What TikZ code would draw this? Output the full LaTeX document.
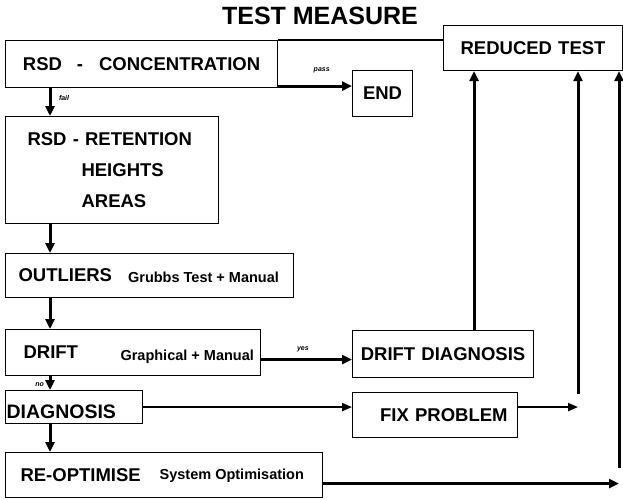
\documentclass[tikz,border=0pt]{standalone}
\usepackage{fontspec}
\setmainfont{Liberation Sans}
\usetikzlibrary{positioning, arrows.meta}

\begin{document}
\begin{tikzpicture}[x=1pt, y=-1pt,
  box/.style={draw, line width=1.1pt, anchor=north west, inner ysep=0pt,
              font=\fontsize{18.5}{22}\selectfont\bfseries},
  note/.style={inner sep=0pt, font=\fontsize{14.5}{16}\selectfont\bfseries},
  lbl/.style={inner sep=0.5pt, font=\fontsize{7}{8}\selectfont\bfseries\itshape},
  arr/.style={line width=3pt, -{Triangle[length=10pt, width=9pt]}},
  arrmid/.style={line width=2pt, -{Triangle[length=10pt, width=8pt]}}]

\useasboundingbox (0,0) rectangle (623,499);

\node[font=\fontsize{25}{28}\selectfont\bfseries] (title) at (320,16) {TEST MEASURE};

% left column
\node[box, text width=272pt, inner xsep=0pt, align=center, minimum height=47pt] (conc) at (5,40)
  {RSD\hspace{15pt}-\hspace{16pt}CONCENTRATION};
\node[box, text width=169pt, inner xsep=22pt, align=left, minimum height=107pt,
      font=\fontsize{18.5}{31}\selectfont\bfseries] (ret) at (5,116)
  {RSD - RETENTION\\ \hspace*{54pt}HEIGHTS\\ \hspace*{54pt}AREAS};
\node[box, text width=262pt, inner xsep=13pt, align=left, minimum height=44pt] (out) at (5,253) {OUTLIERS};
\node[note, left=15pt of out.east, yshift=-1.5pt] (outnote) {Grubbs Test + Manual};
\node[box, text width=219pt, inner xsep=18pt, align=left, minimum height=46pt] (drift) at (5,329) {DRIFT};
\node[note, left=7pt of drift.east, yshift=-4pt] (driftnote) {Graphical + Manual};
\node[box, text width=135pt, inner xsep=1pt, align=left, minimum height=33pt,
      text height=22pt, text depth=0pt, font=\fontsize{19.5}{22}\selectfont\bfseries] (diag) at (5,390) {DIAGNOSIS};
\node[box, text width=287pt, inner xsep=15pt, align=left, minimum height=45pt] (reopt) at (5,452) {RE-OPTIMISE};
\node[note, left=19pt of reopt.east, yshift=-1pt] (reoptnote) {System Optimisation};

% right side
\node[box, text width=60pt, inner xsep=0pt, align=center, minimum height=46pt] (finish) at (352,70) {END};
\node[box, text width=179pt, inner xsep=0pt, align=center, minimum height=45pt] (red) at (443,25) {REDUCED TEST};
\node[box, text width=181pt, inner xsep=0pt, align=center, minimum height=47pt] (ddiag) at (352,330) {DRIFT DIAGNOSIS};
\node[box, text width=145pt, inner xsep=10pt, align=right, minimum height=45pt] (fix) at (352,392) {FIX PROBLEM};

% down the left column
\draw[arr] ([xshift=45pt]conc.south west) -- node[lbl, right=7pt, pos=0.35] (faillbl) {fail} ([xshift=45pt]ret.north west);
\draw[arr] ([xshift=45pt]ret.south west) -- ([xshift=45pt]out.north west);
\draw[arr] ([xshift=45pt]out.south west) -- ([xshift=45pt]drift.north west);
\draw[arr] ([xshift=45pt]drift.south west) -- node[lbl, left=4pt, pos=0.6] (nolbl) {no} ([xshift=45pt]diag.north west);
\draw[arr] ([xshift=45pt]diag.south west) -- ([xshift=45pt]reopt.north west);

% across
\draw[line width=1.1pt] (conc.north east) -- (conc.north east -| red.west);
\coordinate (passout) at ([yshift=2pt]conc.south east);
\draw[arr] (passout) -- node[lbl, above=11pt, pos=0.59] (passlbl) {pass} (passout -| finish.west);
\coordinate (yesout) at ([yshift=-7pt]drift.east);
\draw[arr] (yesout) -- node[lbl, above=6pt, pos=0.46] (yeslbl) {yes} (yesout -| ddiag.west);
\draw[arrmid] (diag.east) -- (diag.east -| fix.west);

% back up to the reduced test
\coordinate (rise1) at ([xshift=31pt]ddiag.north);
\coordinate (rise2) at (578,394);
\coordinate (rise3) at (619,468);
\draw[arr] (rise1) -- (rise1 |- red.south);
\draw[arr] (rise2) -- (rise2 |- red.south);
\draw[arr] (rise3) -- (rise3 |- red.south);
\coordinate (fixout) at (diag.east -| fix.east);
\draw[arrmid] (fixout) -- (fixout -| rise2);
\coordinate (reout) at ([yshift=-8.5pt]reopt.east);
\draw[arr] (reout) -- (reout -| rise3);

\end{tikzpicture}
\end{document}
